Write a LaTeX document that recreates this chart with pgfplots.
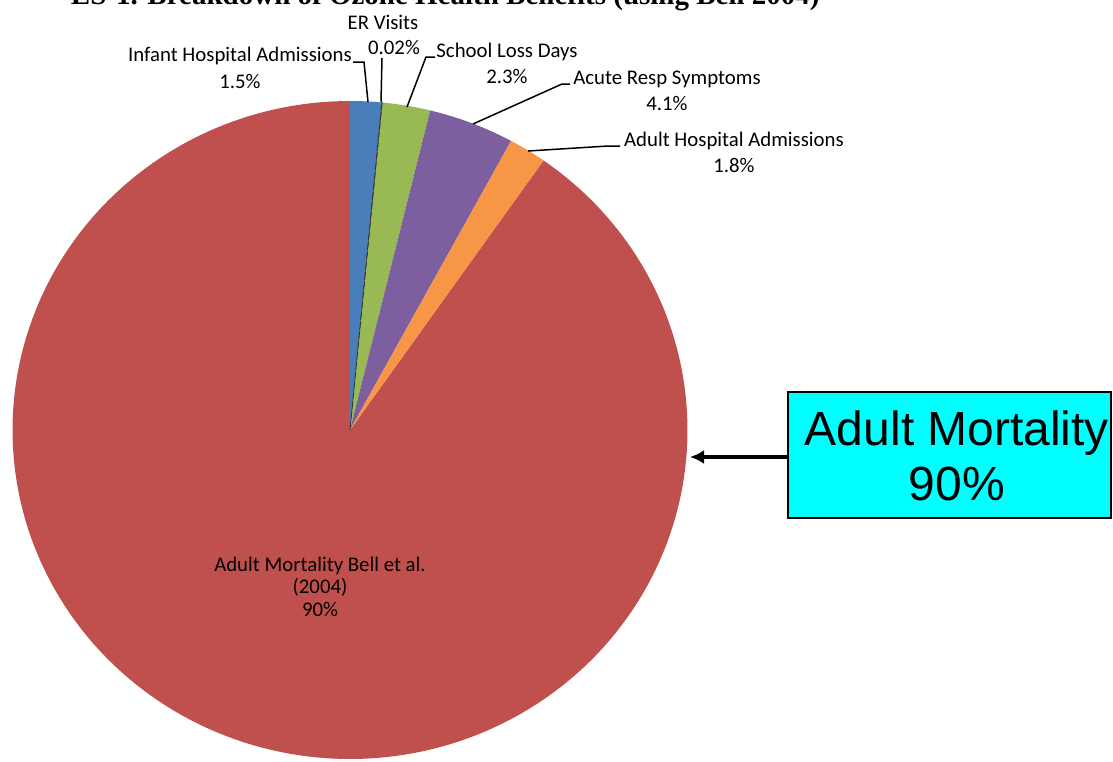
\documentclass[border=0pt]{standalone}
\usepackage{pgfplots}
\pgfplotsset{compat=1.18}
\usepackage{pgfplotstable}
\usepackage{fontspec}
\setmainfont{Carlito}
\newfontfamily\arialfont{Liberation Sans}
\newfontfamily\timesfont{Liberation Serif}
\usetikzlibrary{arrows.meta}
\definecolor{cblue}{HTML}{4A7EBB}
\definecolor{cgreen}{HTML}{98B954}
\definecolor{cpurple}{HTML}{7D5FA0}
\definecolor{corange}{HTML}{F79646}
\definecolor{cred}{HTML}{C0504D}
\definecolor{boxcyan}{HTML}{00FFFF}
\pgfplotstableread{
name value
Infant 1.5
ER 0.02
School 2.3
Acute 4.1
AdultHosp 1.8
Mortality 90
}\piedata
\pgfplotstablegetelem{0}{value}\of\piedata\pgfmathsetmacro\aA{3.6*\pgfplotsretval}
\pgfplotstablegetelem{1}{value}\of\piedata\pgfmathsetmacro\aB{\aA+3.6*\pgfplotsretval}
\pgfplotstablegetelem{2}{value}\of\piedata\pgfmathsetmacro\aC{\aB+3.6*\pgfplotsretval}
\pgfplotstablegetelem{3}{value}\of\piedata\pgfmathsetmacro\aD{\aC+3.6*\pgfplotsretval}
\pgfplotstablegetelem{4}{value}\of\piedata\pgfmathsetmacro\aE{\aD+3.6*\pgfplotsretval}
\newcommand\lbl{\fontsize{10.4}{12}\selectfont}
\begin{document}
\begin{tikzpicture}
\begin{axis}[width=556.5pt,height=380.5pt,scale only axis,
  xmin=0,xmax=1113,ymin=0,ymax=761,y dir=reverse,hide axis,clip=false]
% pie slices (clockwise from 12 o'clock)
\addplot[draw=none,fill=cred,domain=\aE:360,samples=200] ({350+337.5*sin(x)},{430-329*cos(x)}) -- (axis cs:350,430) -- cycle;
\addplot[draw=none,fill=cblue,domain=0:\aA,samples=10] ({350+337.5*sin(x)},{430-329*cos(x)}) -- (axis cs:350,430) -- cycle;
\addplot[draw=none,fill=cgreen,domain=\aB:\aC,samples=15] ({350+337.5*sin(x)},{430-329*cos(x)}) -- (axis cs:350,430) -- cycle;
\addplot[draw=none,fill=cpurple,domain=\aC:\aD,samples=20] ({350+337.5*sin(x)},{430-329*cos(x)}) -- (axis cs:350,430) -- cycle;
\addplot[draw=none,fill=corange,domain=\aD:\aE,samples=10] ({350+337.5*sin(x)},{430-329*cos(x)}) -- (axis cs:350,430) -- cycle;
\addplot[draw=black!80,densely dashed,line width=0.4pt,fill=black,domain=\aA:\aB,samples=2] ({350+337.5*sin(x)},{430-329*cos(x)}) -- (axis cs:350,430) -- cycle;
% title (cut off at top, as in the reference)
\node[anchor=base east,font=\timesfont\bfseries\fontsize{14.5}{16}\selectfont,inner sep=0pt] at (axis cs:820,4) {ES-1. Breakdown of Ozone Health Benefits (using Bell 2004)};
% leader lines
\draw[line width=0.75pt] (axis cs:353,62) -- (axis cs:364,62) -- (axis cs:368,102);
\draw[line width=0.75pt] (axis cs:382,58) -- (axis cs:381,102);
\draw[line width=0.75pt] (axis cs:435,57) -- (axis cs:426,57) -- (axis cs:407,107);
\draw[line width=0.75pt] (axis cs:570,84) -- (axis cs:562,84) -- (axis cs:473,124);
\draw[line width=0.75pt] (axis cs:620,146) -- (axis cs:608,146) -- (axis cs:528,151);
% labels
\node[anchor=base,font=\lbl] at (axis cs:383,29) {ER Visits};
\node[anchor=base,font=\lbl] at (axis cs:394,54) {0.02\%};
\node[anchor=base,font=\lbl] at (axis cs:240,61) {Infant Hospital Admissions};
\node[anchor=base,font=\lbl] at (axis cs:240,88) {1.5\%};
\node[anchor=base,font=\lbl] at (axis cs:507,57) {School Loss Days};
\node[anchor=base,font=\lbl] at (axis cs:507,83) {2.3\%};
\node[anchor=base,font=\lbl] at (axis cs:667,84) {Acute Resp Symptoms};
\node[anchor=base,font=\lbl] at (axis cs:667,110) {4.1\%};
\node[anchor=base,font=\lbl] at (axis cs:734,146) {Adult Hospital Admissions};
\node[anchor=base,font=\lbl] at (axis cs:734,172) {1.8\%};
\node[anchor=base,font=\lbl] at (axis cs:320,571) {Adult Mortality Bell et al.};
\node[anchor=base,font=\lbl] at (axis cs:320,593) {(2004)};
\node[anchor=base,font=\lbl] at (axis cs:320,616) {90\%};
% callout box and arrow
\draw[line width=1pt,fill=boxcyan] (axis cs:788,392) rectangle (axis cs:1111,518);
\node[anchor=base,font=\arialfont\fontsize{24}{27}\selectfont,inner sep=0pt] at (axis cs:957,445) {Adult Mortality};
\node[anchor=base,font=\arialfont\fontsize{24}{27}\selectfont,inner sep=0pt] at (axis cs:957,500) {90\%};
\draw[line width=2pt,-{Latex[length=7pt,width=7pt]}] (axis cs:788,457) -- (axis cs:690,457);
\end{axis}
\pgfresetboundingbox
\path[use as bounding box] (current axis.south west) rectangle (current axis.north east);
\end{tikzpicture}
\end{document}
